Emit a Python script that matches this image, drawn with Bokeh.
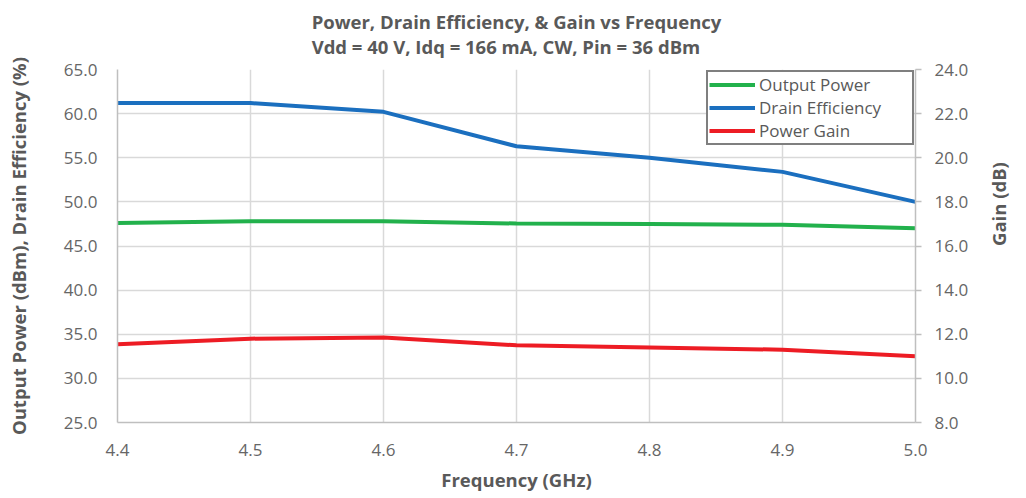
import math
from bokeh.plotting import figure
from bokeh.models import Range1d, LinearAxis, Title, Legend, LegendItem, FixedTicker, NumeralTickFormatter
from bokeh.embed import file_html
from bokeh.resources import INLINE

# ---- data ----
freq = [4.4, 4.5, 4.6, 4.7, 4.8, 4.9, 5.0]
output_power = [47.6, 47.8, 47.8, 47.55, 47.5, 47.4, 47.0]
drain_eff = [61.2, 61.2, 60.2, 56.3, 55.0, 53.4, 50.0]
power_gain = [11.55, 11.8, 11.85, 11.5, 11.4, 11.3, 11.0]

x_ticks = [4.4, 4.5, 4.6, 4.7, 4.8, 4.9, 5.0]
left_ticks = [25, 30, 35, 40, 45, 50, 55, 60, 65]
right_ticks = [8, 10, 12, 14, 16, 18, 20, 22, 24]

title1 = "Power, Drain Efficiency, & Gain vs Frequency"
title2 = "Vdd = 40 V, Idq = 166 mA, CW, Pin = 36 dBm"
xlabel = "Frequency (GHz)"
ylabel = "Output Power (dBm), Drain Efficiency (%)"
y2label = "Gain (dB)"

FONT = "Open Sans"
TXT = "#595959"
TICK = "#666666"
GRID = "#d9d9d9"
AX = "#bfbfbf"

p = figure(width=1026, height=498, title=None,
           x_range=Range1d(4.4, 5.0), y_range=Range1d(25, 65),
           output_backend="svg", toolbar_location=None,
           min_border_left=117, min_border_right=110,
           min_border_top=68, min_border_bottom=76)
p.extra_y_ranges = {"gain": Range1d(8, 24)}
p.outline_line_color = None
p.background_fill_color = "white"

t = Title(text=title1 + "\n" + title2, align="center", text_font=FONT,
          text_font_size="18.5px", text_font_style="bold", text_color=TXT,
          standoff=16, text_line_height=1.02, vertical_align="top")
p.add_layout(t, "above")

r_g = p.line(freq, output_power, line_color="#22b14c", line_width=4)
r_b = p.line(freq, drain_eff, line_color="#1b6fbf", line_width=4)
r_r = p.line(freq, power_gain, line_color="#ed1c24", line_width=4, y_range_name="gain")

xa = p.xaxis[0]
xa.ticker = FixedTicker(ticks=x_ticks)
xa.formatter = NumeralTickFormatter(format="0.0")
xa.axis_label = xlabel
xa.major_label_standoff = 21
xa.axis_label_standoff = 8

ya = p.yaxis[0]
ya.ticker = FixedTicker(ticks=left_ticks)
ya.formatter = NumeralTickFormatter(format="0.0")
ya.axis_label = ylabel
ya.major_label_standoff = 20
ya.axis_label_standoff = 30

ra = LinearAxis(y_range_name="gain", ticker=FixedTicker(ticks=right_ticks),
                formatter=NumeralTickFormatter(format="0.0"), axis_label=y2label)
p.add_layout(ra, "right")
ra.major_tick_out = 6
ra.major_tick_in = 0
ra.major_label_standoff = 13
ra.axis_label_standoff = 27
ra.axis_label_orientation = math.pi / 2

for ax in [xa, ya, ra]:
    ax.axis_line_color = AX
    ax.axis_line_width = 1.5
    ax.major_tick_line_color = AX
    ax.major_tick_line_width = 1.5
    ax.minor_tick_line_color = None
    ax.major_label_text_font = FONT
    ax.major_label_text_font_size = "17px"
    ax.major_label_text_color = TICK
    ax.axis_label_text_font = FONT
    ax.axis_label_text_font_size = "18.5px"
    ax.axis_label_text_font_style = "bold"
    ax.axis_label_text_color = TXT
for ax in [xa, ya]:
    ax.major_tick_out = 0
    ax.major_tick_in = 0

p.xgrid.ticker = FixedTicker(ticks=x_ticks)
p.ygrid.ticker = FixedTicker(ticks=left_ticks)
for g in [p.xgrid[0], p.ygrid[0]]:
    g.grid_line_color = GRID
    g.grid_line_width = 1.5

legend = Legend(items=[LegendItem(label="Output Power", renderers=[r_g]),
                       LegendItem(label="Drain Efficiency", renderers=[r_b]),
                       LegendItem(label="Power Gain", renderers=[r_r])],
                location="top_right")
legend.margin = 1
legend.padding = 1
legend.spacing = 0
legend.label_height = 19
legend.glyph_height = 19
legend.glyph_width = 46
legend.label_standoff = 4
legend.label_width = 152
legend.border_line_color = "black"
legend.border_line_width = 2.5
legend.label_text_font = FONT
legend.label_text_font_size = "17px"
legend.label_text_color = TXT
legend.background_fill_alpha = 1
p.add_layout(legend, "center")

open("out.html", "w").write(file_html(p, INLINE))
